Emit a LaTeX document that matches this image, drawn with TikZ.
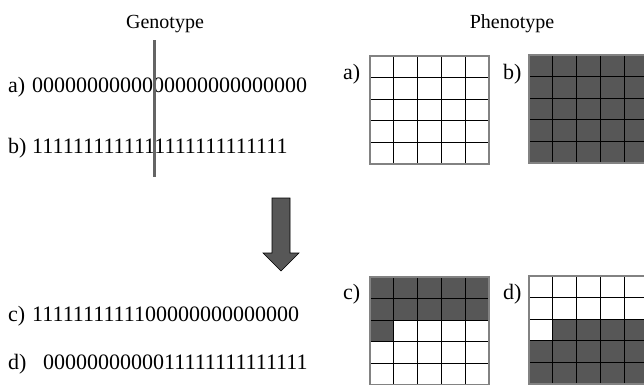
\documentclass[tikz,border=0pt]{standalone}
\usepackage{fontspec}
\setmainfont{Liberation Serif}
\definecolor{cellfill}{RGB}{87,87,87}
\definecolor{framegray}{RGB}{130,130,130}
\definecolor{cutgray}{RGB}{100,100,100}

% 5x5 phenotype grid: origin x, origin y, count n, mode
% mode 0: the first n cells are dark; mode 1: the first n cells are white, the rest dark
\newcommand{\phenogrid}[4]{%
  \begin{scope}[shift={(#1,#2)}]
    \foreach \k in {0,...,24}{
      \pgfmathtruncatemacro{\rowi}{div(\k,5)}
      \pgfmathtruncatemacro{\coli}{mod(\k,5)}
      \pgfmathtruncatemacro{\isdark}{((\k<#3)==(#4==0)) ? 1 : 0}
      \ifnum\isdark=1
        \fill[cellfill] (\coli*23.8,\rowi*21.6) rectangle ++(23.8,21.6);
      \fi
    }
    \foreach \i in {1,...,4}{
      \draw[gridline] (\i*23.8,0) -- (\i*23.8,108);
      \draw[gridline] (0,\i*21.6) -- (119,\i*21.6);
    }
    \draw[frameline] (0,0) rectangle (119,108);
  \end{scope}}

\begin{document}
\begin{tikzpicture}[x=1pt,y=-1pt,
  gridline/.style={black,line width=1pt},
  frameline/.style={framegray,line width=1.4pt},
  title/.style={font=\fontsize{20}{24}\selectfont,inner sep=0pt,anchor=base},
  bits/.style={font=\fontsize{22}{26}\selectfont,inner sep=0pt,anchor=base west},
  tag/.style={font=\fontsize{22}{26}\selectfont,inner sep=0pt,anchor=base west}]
  \useasboundingbox (0,0) rectangle (644,384);
  \fill[white] (0,0) rectangle (644,384);

  % headings
  \node[title] (geno) at (165,28) {Genotype};
  \node[title] (pheno) at (512,28) {Phenotype};

  % genotype strings
  \node[tag] (la) at (8,92) {a)};
  \node[bits] (ga) at (32,92) {0000000000000000000000000};
  \node[tag] (lb) at (8,153) {b)};
  \node[bits] (gb) at (32,153) {1111111111111111111111111};
  \node[tag] (lc) at (8,321) {c)};
  \node[bits] (gc) at (32,321) {1111111111100000000000000};
  \node[tag] (ld) at (8,369) {d)};
  \node[bits] (gd) at (43,369) {0000000000011111111111111};

  % crossover point
  \draw[cutgray,line width=3pt] (154,40) -- (154,177);

  % block arrow
  \draw[fill=cellfill,draw=black,line width=0.6pt]
    (272,198) -- (290,198) -- (290,253) -- (299,253) -- (281,271)
    -- (263,253) -- (272,253) -- cycle;

  % phenotype grids
  \node[tag] (pa) at (343,79) {a)};
  \phenogrid{370}{56}{0}{0}
  \node[tag] (pb) at (503,79) {b)};
  \phenogrid{529}{55}{0}{1}
  \node[tag] (pc) at (343,299) {c)};
  \phenogrid{370}{277}{11}{0}
  \node[tag] (pd) at (503,299) {d)};
  \phenogrid{529}{276}{11}{1}
\end{tikzpicture}
\end{document}
